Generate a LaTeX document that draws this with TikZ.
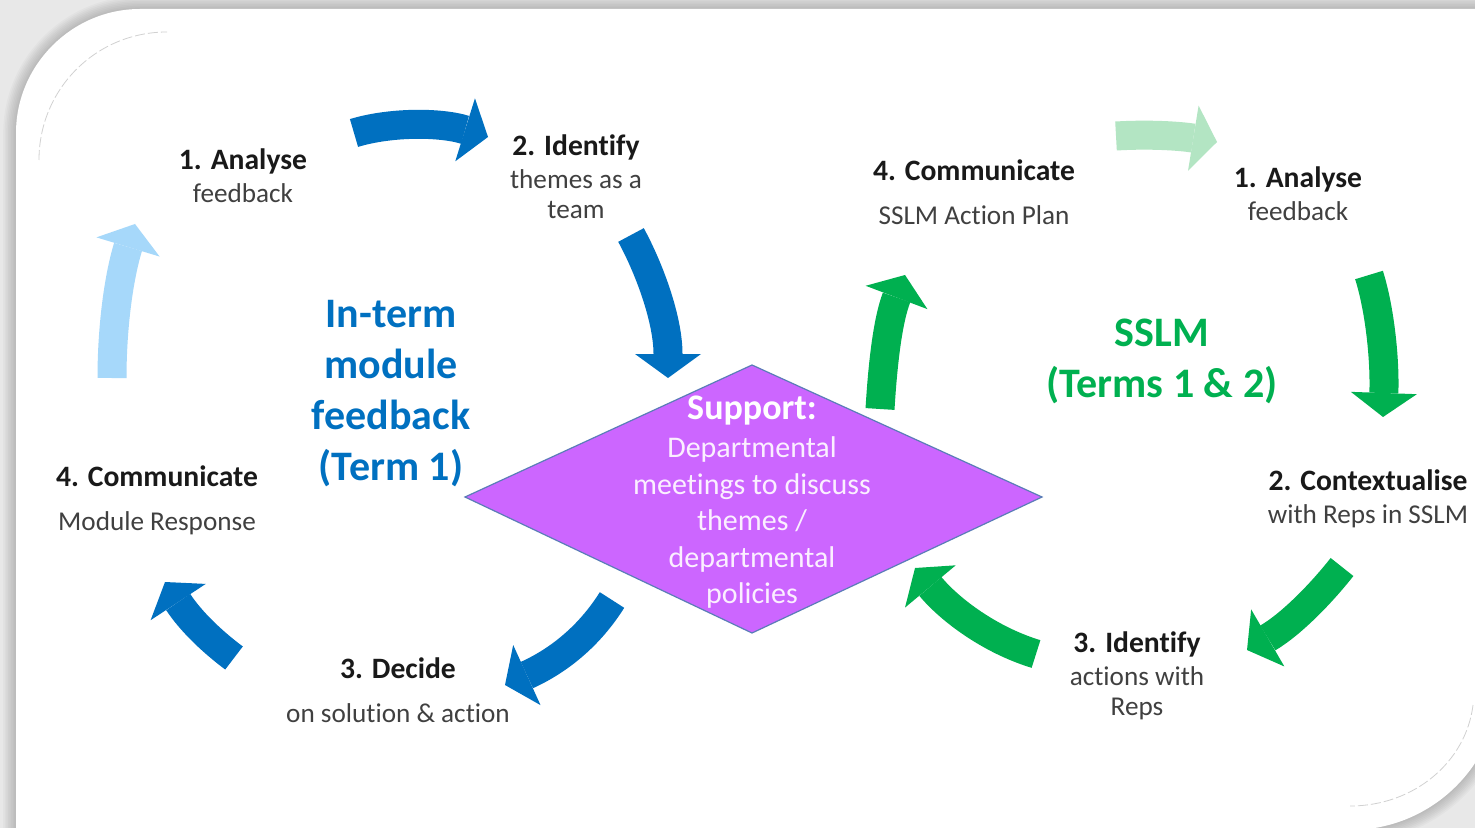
\documentclass[tikz,border=0pt]{standalone}
\usepackage{fontspec}
\setmainfont{Carlito}[Ligatures=NoCommon]
\usetikzlibrary{arrows.meta}
\definecolor{cblue}{HTML}{0070C0}
\definecolor{cgreen}{HTML}{00B050}
\definecolor{lblue}{HTML}{A6D8FA}
\definecolor{lgreen}{HTML}{B3E5C3}
\definecolor{purp}{HTML}{CC66FF}
\definecolor{dborder}{HTML}{5B7DB8}
\definecolor{bgc}{HTML}{E8E8E8}
\definecolor{dtext}{HTML}{FBEFFF}
\newcommand{\bt}[1]{{\color{black!90}\bfseries\fontsize{14.8}{16.5}\selectfont #1}}
\begin{document}
\begin{tikzpicture}[x=0.5pt,y=-0.5pt,
  blk/.style={line width=14.5pt,-{Triangle[length=12pt,width=33pt,line width=0pt]}},
  lbl/.style={align=center, inner sep=0pt, font=\fontsize{13.6}{15}\selectfont, text=black!75},
  big/.style={align=center, inner sep=0pt, font=\bfseries\fontsize{21}{25.5}\selectfont},
  faint/.style={draw=black!18, line width=0.4pt, dash pattern=on 5pt off 1.5pt}
]
\useasboundingbox (0,0) rectangle (1475,828);
\clip (0,0) rectangle (1475,828);
% background and card
\fill[bgc] (0,0) rectangle (1475,828);
\foreach \k in {8,7,...,1}{
  \draw[black, opacity=0.025, line width=\k*1.6pt]
    (16,900) -- (16,133) .. controls (16,65) and (72,9) .. (140,9) -- (1500,9)
    -- (1500,680) .. controls (1500,763) and (1433,830) .. (1350,830) -- (16,830) -- cycle;
}
\fill[white] (16,900) -- (16,133) .. controls (16,65) and (72,9) .. (140,9) -- (1500,9)
    -- (1500,680) .. controls (1500,763) and (1433,830) .. (1350,830) -- (16,830) -- cycle;
\draw[faint] (39,160) .. controls (39,89) and (96,32) .. (167,32);
\draw[faint] (1473,705) .. controls (1466,762) and (1414,806) .. (1350,806);

% diamond
\coordinate (dL) at (465,497);
\coordinate (dT) at (752,365);
\coordinate (dR) at (1042,497);
\coordinate (dB) at (752,633);
\filldraw[fill=purp, draw=dborder, line width=0.6pt] (dL) -- (dT) -- (dR) -- (dB) -- cycle;
\node[align=center, inner sep=0pt, text=dtext, font=\fontsize{15}{18.25}\selectfont] (sup) at (752,502)
  {{\color{white}\bfseries\fontsize{18}{20}\selectfont Support:}\\[1pt]
   Departmental\\meetings to discuss\\themes /\\departmental\\policies};

% arrow end points
\coordinate (a1s) at (354,133);  \coordinate (a1e) at (488,137);
\coordinate (a2s) at (631,235);  \coordinate (a2e) at (668,378);
\coordinate (a3s) at (612,600);  \coordinate (a3e) at (505,685);
\coordinate (a4s) at (234,658);  \coordinate (a4e) at (165,582);
\coordinate (a5s) at (112,378);  \coordinate (a5e) at (135,224);
\coordinate (b1s) at (1116,136); \coordinate (b1e) at (1217,142);
\coordinate (b2s) at (1369,275); \coordinate (b2e) at (1383,417);
\coordinate (b3s) at (1342,567); \coordinate (b3e) at (1247,650);
\coordinate (b4s) at (1036,654); \coordinate (b4e) at (915,568);
\coordinate (b5s) at (880,409);  \coordinate (b5e) at (905,275);

% blue cycle
\draw[blk, cblue] (a1s) .. controls (390,122) and (440,122) .. (a1e);
\draw[blk, cblue] (a2s) .. controls (650,270) and (668,320) .. (a2e);
\draw[blk, cblue] (a3s) .. controls (590,635) and (560,660) .. (a3e);
\draw[blk, cblue] (a4s) .. controls (210,640) and (190,620) .. (a4e);
\draw[blk, lblue] (a5s) .. controls (112,330) and (118,280) .. (a5e);
% green cycle
\draw[blk, lgreen] (b1s) .. controls (1150,134) and (1180,136) .. (b1e);
\draw[blk, cgreen] (b2s) .. controls (1380,310) and (1385,360) .. (b2e);
\draw[blk, cgreen] (b3s) .. controls (1320,595) and (1290,625) .. (b3e);
\draw[blk, cgreen] (b4s) .. controls (990,640) and (950,610) .. (b4e);
\draw[blk, cgreen] (b5s) .. controls (883,360) and (888,320) .. (b5e);

% left labels
\node[lbl] (l1) at (243,176) {\bt{1. Analyse}\\[1.5pt]feedback};
\node[lbl] (l2) at (576,177) {\bt{2. Identify}\\[1.5pt]themes as a\\team};
\node[lbl] (l3) at (398,690) {\bt{3. Decide}\\[7pt]on solution \& action};
\node[lbl] (l4) at (157,500) {\bt{4. Communicate}\\[7pt]Module Response};
\node[big, text=cblue] (tl) at (391,393.5) {In-term\\module\\feedback\\(Term 1)};

% right labels
\node[lbl] (r1) at (1298,193.5) {\bt{1. Analyse}\\[1.5pt]feedback};
\node[lbl] (r2) at (1368,499) {\bt{2. Contextualise}\\[1.5pt]with Reps in SSLM};
\node[lbl] (r3) at (1137,676) {\bt{3. Identify}\\[1.5pt]actions with\\Reps};
\node[lbl] (r4) at (974,192) {\bt{4. Communicate}\\[7pt]SSLM Action Plan};
\node[big, text=cgreen] (tr) at (1162,361) {SSLM\\(Terms 1 \& 2)};
\end{tikzpicture}
\end{document}
